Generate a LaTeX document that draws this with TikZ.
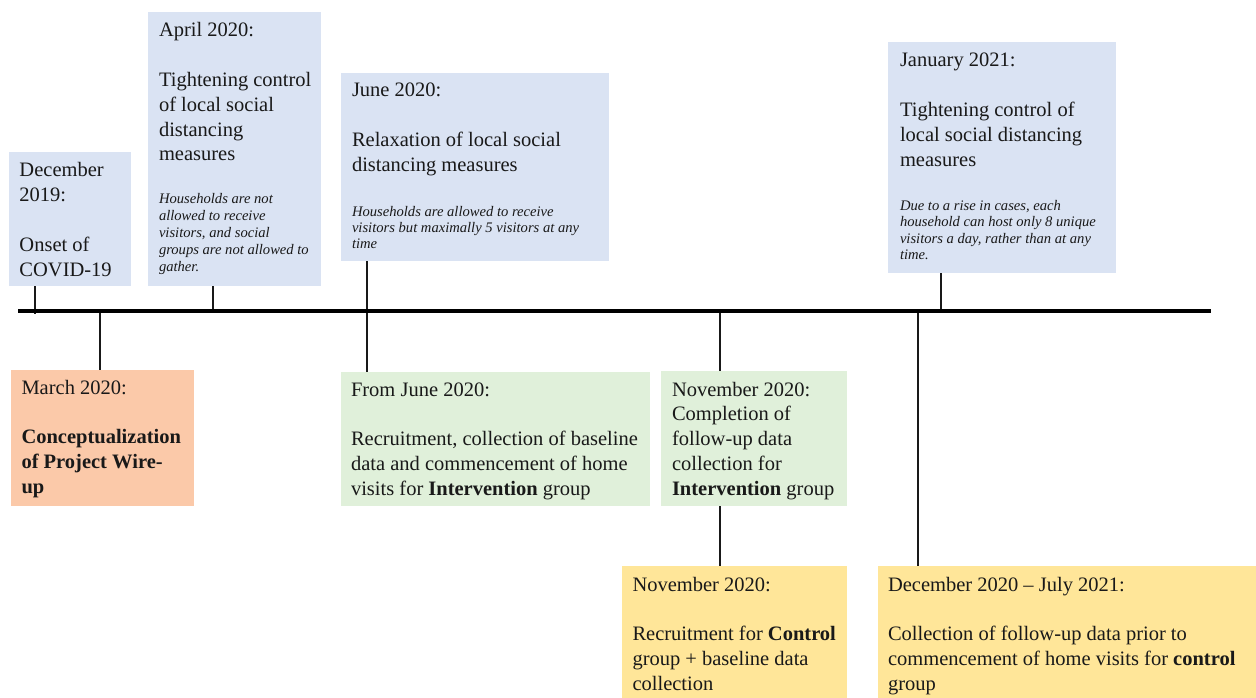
\documentclass[tikz,border=0pt]{standalone}
\usepackage{fontspec}
\setmainfont{Liberation Serif}
\definecolor{evblue}{HTML}{DAE3F3}
\definecolor{evorange}{HTML}{FBC9A9}
\definecolor{evgreen}{HTML}{E0F0DA}
\definecolor{evyellow}{HTML}{FFE699}
\newcommand\mainsz{\fontsize{20.5}{24.8}\selectfont}
\newcommand\itsz[1]{\fontsize{14.6}{#1}\selectfont\itshape}
\tikzset{
  evbox/.style={draw=none, inner sep=0pt, outer sep=0pt, anchor=north west},
  evtxt/.style={inner sep=0pt, outer sep=0pt, anchor=base west, align=flush left, font=\mainsz, text=black!90},
  evtick/.style={line width=1.4pt, draw=black!90},
  evaxis/.style={line width=3.5pt, draw=black},
}
\begin{document}
\begin{tikzpicture}[x=1pt,y=-1pt]
\useasboundingbox (0,0) rectangle (1256,698);
% boxes
\node[evbox, fill=evblue, minimum width=122pt, minimum height=134pt] (dec) at (9,152) {};
\node[evbox, fill=evblue, minimum width=173pt, minimum height=274pt] (apr) at (148,12) {};
\node[evbox, fill=evblue, minimum width=268pt, minimum height=188pt] (jun) at (341,73) {};
\node[evbox, fill=evblue, minimum width=228pt, minimum height=231pt] (jan) at (888,42) {};
\node[evbox, fill=evorange, minimum width=183pt, minimum height=136pt] (mar) at (11,370) {};
\node[evbox, fill=evgreen, minimum width=309pt, minimum height=134pt] (fjun) at (341,372) {};
\node[evbox, fill=evgreen, minimum width=186pt, minimum height=135pt] (novg) at (661,371) {};
\node[evbox, fill=evyellow, minimum width=225pt, minimum height=132pt] (novy) at (622,566) {};
\node[evbox, fill=evyellow, minimum width=378pt, minimum height=132pt] (decy) at (878,566) {};
% texts
\node[evtxt, text width=160pt] (decT) at (19.5,177) {December\\ 2019:\\[24.8pt]Onset of\\ COVID-19};
\node[evtxt, text width=200pt] (aprT) at (159,37) {April 2020:\\[24.8pt]Tightening control\\ of local social\\ distancing\\ measures\par\vspace{25pt}{\itsz{17.2}Households are not\\ allowed to receive\\ visitors, and social\\ groups are not allowed to\\ gather.\par}};
\node[evtxt, text width=300pt] (junT) at (352,97) {June 2020:\\[24.8pt]Relaxation of local social\\ distancing measures\par\vspace{29pt}{\itsz{16}Households are allowed to receive\\ visitors but maximally 5 visitors at any\\ time\par}};
\node[evtxt, text width=260pt] (janT) at (900,67) {January 2021:\\[24.8pt]Tightening control of\\ local social distancing\\ measures\par\vspace{28pt}{\itsz{16.3}Due to a rise in cases, each\\ household can host only 8 unique\\ visitors a day, rather than at any\\ time.\par}};
\node[evtxt, text width=220pt] (marT) at (21.5,394) {March 2020:\\[24.8pt]\textbf{Conceptualization}\\ \textbf{of Project Wire-}\\ \textbf{up}};
\node[evtxt, text width=340pt] (fjunT) at (351,396) {From June 2020:\\[24.8pt]Recruitment, collection of baseline\\ data and commencement of home\\ visits for \textbf{Intervention} group};
\node[evtxt, text width=220pt] (novgT) at (672,396) {November 2020:\\ Completion of\\ follow-up data\\ collection for\\ \textbf{Intervention} group};
\node[evtxt, text width=260pt] (novyT) at (632.5,591) {November 2020:\\[24.8pt]Recruitment for \textbf{Control}\\ group + baseline data\\ collection};
\node[evtxt, text width=400pt] (decyT) at (888,591) {December 2020 -- July 2021:\\[24.8pt]Collection of follow-up data prior to\\ commencement of home visits for \textbf{control}\\ group};
% timeline
\coordinate (tl0) at (18,311);
\coordinate (tl1) at (1211,311);
\coordinate (kDec) at (35,311);
\coordinate (kApr) at (213,311);
\coordinate (kMar) at (100,311);
\coordinate (kJun) at (367,311);
\coordinate (kNov) at (720,311);
\coordinate (kJan) at (941,311);
\coordinate (kD20) at (918,311);
\draw[evtick] (dec.south -| kDec) -- ([yshift=-3pt]kDec);
\draw[evtick] (apr.south -| kApr) -- (kApr);
\draw[evtick] (kMar) -- (mar.north -| kMar);
\draw[evtick] (jun.south -| kJun) -- (fjun.north -| kJun);
\draw[evtick] (kNov) -- (novg.north -| kNov);
\draw[evtick] (novg.south -| kNov) -- (novy.north -| kNov);
\draw[evtick] (jan.south -| kJan) -- (kJan);
\draw[evtick] (kD20) -- (decy.north -| kD20);
\draw[evaxis] (tl0) -- (tl1);
\end{tikzpicture}
\end{document}
